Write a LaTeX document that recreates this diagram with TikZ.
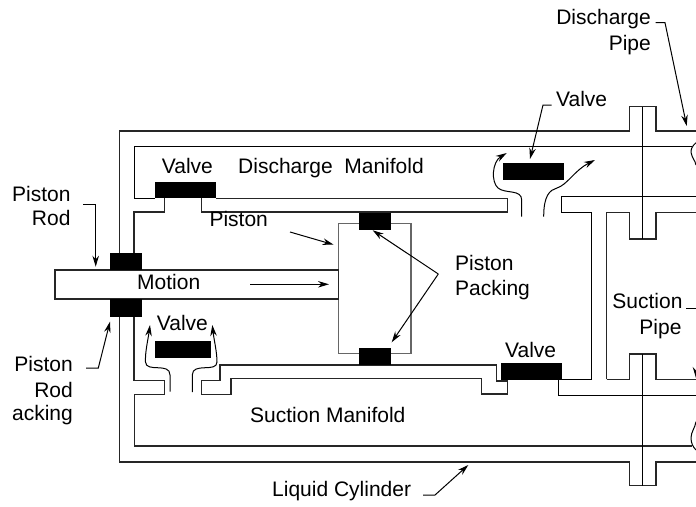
\documentclass[tikz,border=0pt]{standalone}
\usepackage{fontspec}
\setmainfont{Liberation Sans}
\usetikzlibrary{arrows.meta}
\tikzset{
  wall/.style={draw=black!85,line width=1.2pt,line join=miter},
  thin wall/.style={draw=black,line width=1pt},
  greywall/.style={draw=black!60,line width=1.2pt},
  block/.style={fill=black,draw=none},
  ptr/.style={draw=black,line width=1pt,-{Stealth[length=11pt,width=6.5pt]}},
  lab/.style={font=\fontsize{21}{21}\selectfont,inner sep=0pt,text=black},
  labl/.style={lab,anchor=base west},
  labr/.style={lab,anchor=base east},
}
\begin{document}
\begin{tikzpicture}[x=1pt,y=-1pt]
\useasboundingbox (0,0) rectangle (696,506);
% outer shell
\draw[wall] (119.5,253) -- (119.5,131) -- (629.3,131) -- (629.3,106.7) -- (656,106.7) -- (656,131) -- (696,131);
\draw[wall] (119.5,316.7) -- (119.5,462) -- (629.3,462) -- (629.3,485.7) -- (656,485.7) -- (656,462) -- (696,462);
% upper manifold
\draw[thin wall] (155,198.3) -- (134.7,198.3) -- (134.7,146.3) -- (692,146.3);
\draw[wall] (216,198.3) -- (507.7,198.3) -- (507.7,212) -- (201.7,212) -- (201.7,198.3);
\draw[wall] (164.3,198.3) -- (164.3,212) -- (134,212) -- (134,253);
% right side of discharge manifold
\draw[thin wall] (696,196.7) -- (561,196.7) -- (561,212.3) -- (591.3,212.3) -- (591.3,379.7) -- (562,379.7);
\draw[wall] (606.7,379.3) -- (606.7,212.3) -- (629.3,212.3) -- (629.3,239) -- (656,239) -- (656,212.3) -- (696,212.3);
\draw[thin wall] (642.7,106.7) -- (642.7,239);
% lower manifold
\draw[wall] (134,316.7) -- (134,380.7) -- (164.3,380.7) -- (164.3,394.3) -- (134.7,394.3) -- (134.7,446) -- (691.5,446);
\draw[wall] (496.3,381) -- (507.7,381) -- (507.7,394) -- (481.7,394) -- (481.7,378.3) -- (231,378.3) -- (231,394.3) -- (201.7,394.3) -- (201.7,380.7) -- (220,380.7) -- (220,365) -- (496.3,365) -- cycle;
\draw[thin wall] (558.3,379.7) -- (558.3,395.7) -- (696,395.7);
\draw[wall] (606.7,379.3) -- (629.3,379.3) -- (629.3,354) -- (656,354) -- (656,379.3) -- (696,379.3);
\draw[thin wall] (642.7,354) -- (642.7,485.7);
% wavy breaks
\draw[thin wall] (696,142.7) .. controls (692,146) and (690.5,150) .. (691.2,153) .. controls (692,158) and (695,160) .. (696,165);
\draw[thin wall] (696,180) -- (696,192);
\draw[thin wall] (696,401.7) -- (696,410.7);
\draw[thin wall] (696,421.7) .. controls (695,428) and (691,432) .. (691,438) .. controls (691,443) and (693,447) .. (696,450);
% rod and piston
\draw[greywall] (338.7,223.3) rectangle (411,353.3);
\draw[wall] (55,270) rectangle (338.7,299);
% solid blocks
\fill[block] (110,253) rectangle (141.7,270);
\fill[block] (110,299.3) rectangle (141.7,316.7);
\fill[block] (155,182) rectangle (216,198.3);
\fill[block] (503,163) rectangle (564,179.7);
\fill[block] (155,341) rectangle (211,357.7);
\fill[block] (501,363) rectangle (562,379.7);
\fill[block] (359,212.7) rectangle (391,229.7);
\fill[block] (359,348.3) rectangle (391,365);
% labels
\node[labl] (valveA) at (161.7,173) {Valve};
\node[labl] (dman) at (238,173) {Discharge\ \ Manifold};
\node[labl] (pist) at (209.3,226) {Piston};
\node[labr] (prodA) at (70.7,201) {Piston};
\node[labr] (prodB) at (70.7,225) {Rod};
\node[labl] (motion) at (137,289) {Motion};
\node[labl] (valveB) at (156.7,330) {Valve};
\node[labr] (prpA) at (73,371) {Piston};
\node[labr] (prpB) at (73,397) {Rod};
\node[labr] (prpC) at (73,420) {acking};
\node[labl] (ppA) at (455,270) {Piston};
\node[labl] (ppB) at (455,295) {Packing};
\node[labl] (valveC) at (505,357) {Valve};
\node[labl] (sman) at (250,422) {Suction Manifold};
\node[labl] (liq) at (272,496) {Liquid Cylinder};
\node[labr] (dpA) at (651,24) {Discharge};
\node[labr] (dpB) at (651,50) {Pipe};
\node[labl] (valveD) at (556,106) {Valve};
\node[labr] (spA) at (682.7,308) {Suction};
\node[labr] (spB) at (681.7,334) {Pipe};
% pointers
\coordinate (c1) at (83,204.7);
\draw[ptr] (c1) -- (95.7,204.7) -- (95.7,266.7);
\coordinate (c2) at (86,368);
\draw[ptr] (c2) -- (98.3,368) -- (110,321.7);
\coordinate (c3) at (290,232);
\draw[ptr] (c3) -- (333.7,244.7);
\coordinate (c4) at (250,284.3);
\draw[ptr] (c4) -- (329,284.3);
\coordinate (c5) at (438.3,274);
\draw[ptr] (c5) -- (372.7,230.3);
\draw[ptr] (c5) -- (391.7,342.3);
\coordinate (c6) at (551.7,105);
\draw[ptr] (c6) -- (543,105) -- (530,159);
\coordinate (c7) at (655.7,22.7);
\draw[ptr] (c7) -- (665,22.7) -- (686.7,126);
\coordinate (c8) at (686,308.7);
\draw[ptr] (c8) -- (696,308.7) -- (696,378);
\coordinate (c9) at (423,495);
\draw[ptr] (c9) -- (435,495) -- (468.3,465);
% flow lines
\coordinate (f1) at (521.7,216.7);
\draw[ptr] (f1) -- (521.7,200) .. controls (521.7,189) and (505,194) .. (498,188) .. controls (491,182) and (492,162) .. (506.7,153);
\coordinate (f2) at (543.7,216.7);
\draw[ptr] (f2) .. controls (543.7,195) and (550,190) .. (557,188) .. controls (567,185) and (575,170) .. (595,160);
\coordinate (f3) at (170,391.7);
\draw[ptr] (f3) -- (170,375) .. controls (170,362) and (146,373) .. (145.5,362) .. controls (145,352) and (148,340) .. (150,325);
\coordinate (f4) at (192.3,392);
\draw[ptr] (f4) -- (192.3,375) .. controls (192.3,362) and (217,373) .. (217,362) .. controls (217,352) and (214,340) .. (212.3,325);
\end{tikzpicture}
\end{document}
